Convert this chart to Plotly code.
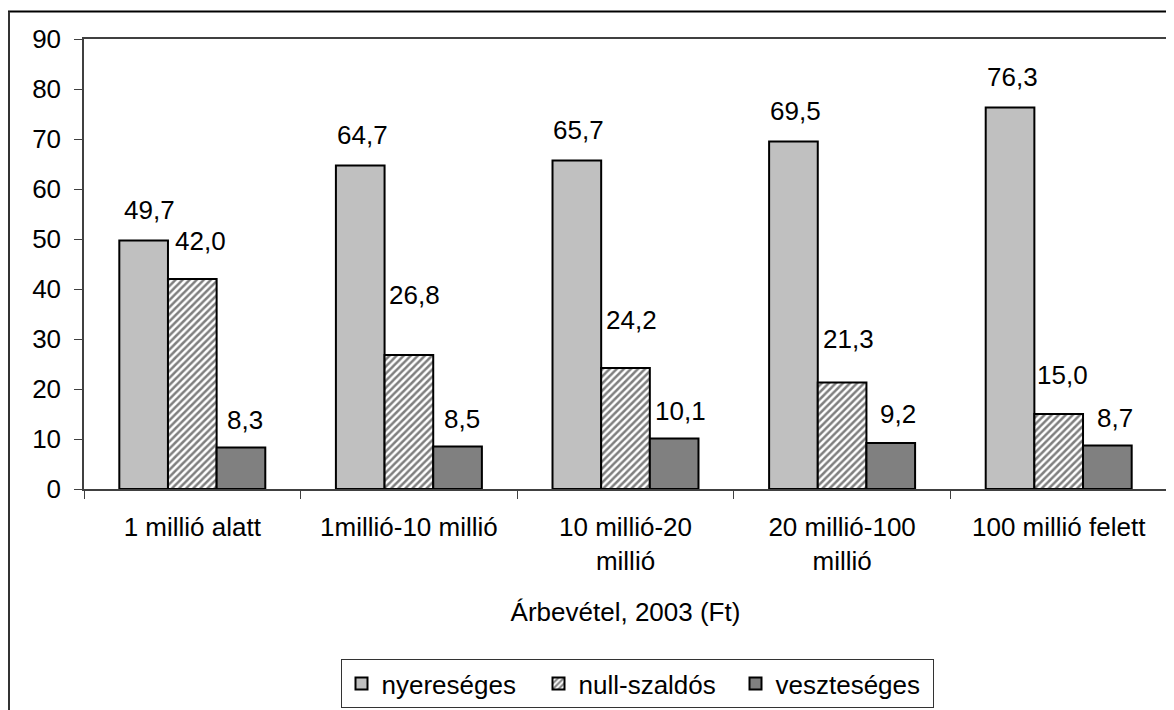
import plotly.graph_objects as go

categories = ["1 millió alatt", "1millió-10 millió", "10 millió-20<br>millió",
              "20 millió-100<br>millió", "100 millió felett"]
nyereseges = [49.7, 64.7, 65.7, 69.5, 76.3]
null_szaldos = [42.0, 26.8, 24.2, 21.3, 15.0]
veszteseges = [8.3, 8.5, 10.1, 9.2, 8.7]
series_names = ["nyereséges", "null-szaldós", "veszteséges"]
y_ticks = [0, 10, 20, 30, 40, 50, 60, 70, 80, 90]

# label placement offsets in pixels (style, Excel moved labels)
ny_shift = [(6, 31), (2, 31), (2, 31), (2, 31), (2, 31)]
null_shift = [(8, 38), (6, 60), (6, 48), (6, 44), (4, 39)]
vz_shift = [(4, 28), (4, 28), (6, 28), (7, 29), (8, 28)]

FONT = "Liberation Sans, Arial, sans-serif"
FS = 26
BARGAP = 0.326

fig = go.Figure()
fig.add_trace(go.Bar(name=series_names[0], x=categories, y=nyereseges,
                     marker=dict(color="#c0c0c0", line=dict(color="black", width=2))))
fig.add_trace(go.Bar(name=series_names[1], x=categories, y=null_szaldos,
                     marker=dict(color="white", line=dict(color="black", width=2),
                                 pattern=dict(shape="/", fgcolor="black", bgcolor="white",
                                              size=5, solidity=0.5))))
fig.add_trace(go.Bar(name=series_names[2], x=categories, y=veszteseges,
                     marker=dict(color="#808080", line=dict(color="black", width=2))))

bw = (1 - BARGAP) / 3
for vals, dx, shifts in zip([nyereseges, null_szaldos, veszteseges], [-bw, 0, bw],
                            [ny_shift, null_shift, vz_shift]):
    for i, v in enumerate(vals):
        xs, ys = shifts[i]
        fig.add_annotation(x=i + dx, y=v, xref="x", yref="y",
                           text=f"{v:.1f}".replace(".", ","), showarrow=False,
                           xshift=xs, yshift=ys, yanchor="middle",
                           font=dict(family=FONT, size=FS, color="black"))

# page body has an 8px margin; figure coords = screen coords - 8
OFF = 8
W, H = 1174 - OFF, 710 - OFF
L, R, T, B = 84 - OFF, 1167 - OFF, 39 - OFF, 489 - OFF


def px(x):
    return (x - OFF - L) / (R - L)


def py(y):
    return (B - (y - OFF)) / (B - T)


shapes = [
    dict(type="line", xref="paper", yref="paper", x0=px(8), x1=px(1180), y0=py(11.5), y1=py(11.5),
         line=dict(color="black", width=2)),
    dict(type="line", xref="paper", yref="paper", x0=px(9), x1=px(9), y0=py(11.5), y1=py(720),
         line=dict(color="#333", width=2)),
]

fig.update_layout(
    width=W, height=H,
    margin=dict(l=L, r=W - R, t=T, b=H - B, autoexpand=False),
    paper_bgcolor="white", plot_bgcolor="white",
    barmode="group", bargap=BARGAP, bargroupgap=0,
    font=dict(family=FONT, size=FS, color="black"),
    showlegend=True,
    legend=dict(orientation="h", x=px(637), xanchor="center", y=py(659), yanchor="top",
                bordercolor="#333", borderwidth=1, font=dict(family=FONT, size=FS),
                traceorder="normal", itemwidth=30, entrywidth=152, entrywidthmode="pixels"),
    shapes=shapes,
    xaxis=dict(showline=True, linecolor="#404040", linewidth=1.5, mirror=True, ticks="outside",
               tickson="boundaries", ticklen=8, tickcolor="#404040", tickwidth=1,
               ticklabelstandoff=14,
               showgrid=False, tickfont=dict(family=FONT, size=FS),
               title=dict(text="Árbevétel, 2003 (Ft)", font=dict(family=FONT, size=FS), standoff=28)),
    yaxis=dict(range=[0, 90], tickvals=y_ticks, showline=True, linecolor="#404040", linewidth=1.5,
               mirror=True, ticks="outside", ticklen=8, tickcolor="#404040", showgrid=False,
               zeroline=False, ticklabelstandoff=8,
               tickfont=dict(family=FONT, size=FS)),
)

fig.write_html("out.html")
